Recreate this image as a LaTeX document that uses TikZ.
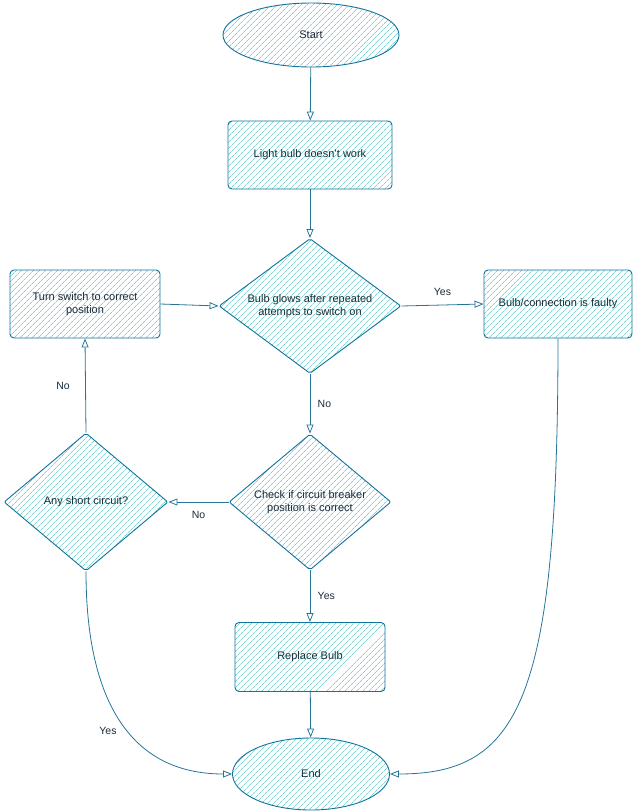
\documentclass[tikz,border=0pt]{standalone}
\usepackage{fontspec}
\setmainfont{Liberation Sans}
\usetikzlibrary{shapes.geometric,patterns.meta,arrows.meta}
\definecolor{edge}{HTML}{10739E}
\definecolor{hatch}{HTML}{7FD3D0}
\definecolor{txt}{HTML}{1A2B3C}
\begin{document}
\begin{tikzpicture}[x=1pt,y=-1pt,
  font=\fontsize{11}{13.5}\selectfont, text=txt,
  box/.style={draw=edge, line width=0.9pt, rounded corners=4pt,
    pattern={Lines[angle=45,distance=4pt,line width=0.7pt]}, pattern color=hatch,
    align=center, inner sep=2pt},
  rect/.style={box, rectangle},
  oval/.style={box, ellipse},
  dia/.style={box, diamond, rounded corners=2pt},
  arr/.style={draw=edge!80!gray, line width=0.8pt, -{Triangle[open,length=9pt,width=7pt]}},
  lbl/.style={font=\fontsize{10.5}{12}\selectfont, text=txt}]
\useasboundingbox (0,0) rectangle (634,812);
\node[oval, minimum width=176pt, minimum height=64pt] (start) at (311,35) {Start};
\node[rect, minimum width=164pt, minimum height=68pt] (light) at (310,155) {Light bulb doesn't work};
\node[dia, minimum width=182pt, minimum height=135pt, aspect=1.35] (d1) at (310,306) {};
\node[align=center] at (d1) {Bulb glows after repeated\\attempts to switch on};
\node[rect, minimum width=148pt, minimum height=68pt] (faulty) at (558,304) {Bulb/connection is faulty};
\node[rect, minimum width=150pt, minimum height=68pt] (turn) at (85,304) {};
\node[align=center] at (85,304) {Turn switch to correct\\position};
\node[dia, minimum width=162pt, minimum height=136pt, aspect=1.2] (d2) at (310,502) {};
\node[align=center] at (d2) {Check if circuit breaker\\position is correct};
\node[dia, minimum width=164pt, minimum height=138pt, aspect=1.2] (d3) at (86,502) {};
\node at (d3) {Any short circuit?};
\node[rect, minimum width=150pt, minimum height=69pt] (repl) at (310,657) {Replace Bulb};
\node[oval, minimum width=157pt, minimum height=72pt] (end) at (311,774) {End};

\draw[arr] (start) -- (light);
\draw[arr] (light) -- (d1);
\draw[arr] (d1.east) -- node[lbl, above=6pt, pos=0.5] {Yes} (faulty.west);
\draw[arr] (turn.east) -- (d1.west);
\draw[arr] (d1.south) -- node[lbl, right=4pt] {No} (d2.north);
\draw[arr] (d2.west) -- node[lbl, below=6pt] {No} (d3.east);
\draw[arr] (d3.north) -- node[lbl, left=12pt] {No} (turn.south);
\draw[arr] (d2.south) -- node[lbl, right=4pt] {Yes} (repl.north);
\draw[arr] (repl) -- (end);
\draw[arr] (d3.south) .. controls (86,700) and (130,774) .. node[lbl, pos=0.55, left=8pt] {Yes} (end.west);
\draw[arr] (faulty.south) .. controls (558,700) and (520,774) .. (end.east);
\end{tikzpicture}
\end{document}
